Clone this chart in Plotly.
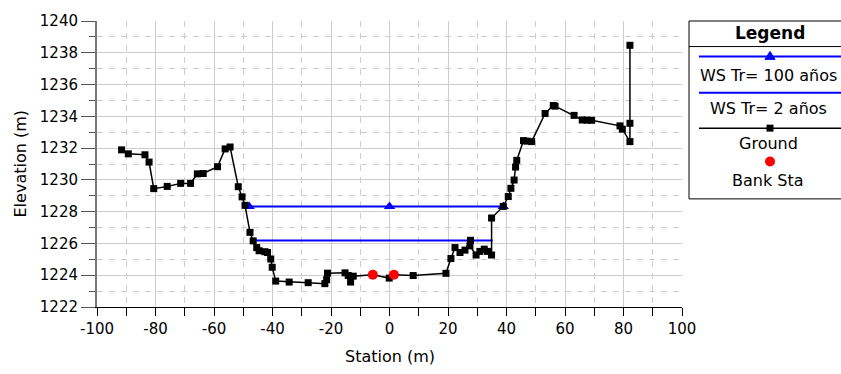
import plotly.graph_objects as go

# ---------------- data ----------------
ground_x = [-91.6, -89.3, -83.6, -82.2, -80.6, -76.0, -71.4, -68.0, -65.7, -63.7,
            -58.8, -56.2, -54.5, -51.7, -50.4, -49.4, -47.7, -46.6, -45.4, -44.6,
            -42.6, -41.7, -40.6, -40.1, -38.9, -34.3, -27.8, -22.1, -21.5, -21.2,
            -15.2, -14.1, -13.3, -12.4, -5.7, -0.1, 1.5, 8.1, 19.3, 21.0,
            22.4, 24.1, 25.8, 27.7, 27.5, 29.6, 30.9, 32.4, 33.5, 34.9,
            34.9, 38.9, 40.6, 41.5, 42.6, 43.1, 43.5, 45.8, 47.0, 48.6,
            53.2, 56.0, 56.6, 63.1, 65.9, 67.5, 69.1, 78.8, 79.6, 82.2,
            82.2, 82.2]
ground_y = [1231.89, 1231.64, 1231.58, 1231.12, 1229.45, 1229.59, 1229.78, 1229.78, 1230.38, 1230.40,
            1230.83, 1231.95, 1232.07, 1229.57, 1228.93, 1228.40, 1226.70, 1226.16, 1225.74, 1225.54,
            1225.48, 1225.43, 1225.02, 1224.50, 1223.63, 1223.57, 1223.53, 1223.47, 1223.72, 1224.13,
            1224.15, 1223.98, 1223.57, 1223.94, 1224.03, 1223.82, 1224.03, 1223.98, 1224.12, 1225.05,
            1225.74, 1225.43, 1225.58, 1226.20, 1225.85, 1225.27, 1225.50, 1225.64, 1225.50, 1225.27,
            1227.60, 1228.33, 1228.95, 1229.47, 1229.99, 1230.81, 1231.23, 1232.47, 1232.44, 1232.41,
            1234.18, 1234.68, 1234.64, 1234.06, 1233.77, 1233.76, 1233.75, 1233.40, 1233.19, 1232.41,
            1233.56, 1238.47]

ws100_x = [-48.0, 0.0, 38.9]
ws100_y = [1228.33, 1228.33, 1228.33]

ws2_x = [-47.1, 35.3]
ws2_y = [1226.18, 1226.18]

bank_x = [-5.7, 1.5]
bank_y = [1224.03, 1224.03]

x_tickvals = [-100, -80, -60, -40, -20, 0, 20, 40, 60, 80, 100]
x_ticktext = ["-100", "-80", "-60", "-40", "-20", "0", "20", "40", "60", "80", "100"]
y_tickvals = [1222, 1224, 1226, 1228, 1230, 1232, 1234, 1236, 1238, 1240]

legend_labels = ["WS Tr= 100 años", "WS Tr= 2 años", "Ground", "Bank Sta"]

FONT = "DejaVu Sans"
W, H = 841, 374
ML, MR, MT, MB = 97, 159, 16, 67
PW = W - ML - MR
PH = H - MT - MB


def xp(px):
    return (px - ML) / PW


def yp(py):
    return (H - MB - py) / PH


fig = go.Figure()

fig.add_trace(go.Scatter(x=ws100_x, y=ws100_y, mode="lines+markers",
                         line=dict(color="#0000FF", width=2),
                         marker=dict(symbol="triangle-up", size=10, color="#0000FF"),
                         name=legend_labels[0], showlegend=False))
fig.add_trace(go.Scatter(x=ws2_x, y=ws2_y, mode="lines",
                         line=dict(color="#0000FF", width=2),
                         name=legend_labels[1], showlegend=False))
fig.add_trace(go.Scatter(x=ground_x, y=ground_y, mode="lines+markers",
                         line=dict(color="black", width=1.5),
                         marker=dict(symbol="square", size=7, color="black"),
                         name=legend_labels[2], showlegend=False))
fig.add_trace(go.Scatter(x=bank_x, y=bank_y, mode="markers",
                         marker=dict(symbol="circle", size=10, color="#FF0000"),
                         name=legend_labels[3], showlegend=False))

grid_c = "#CDCDCD"
fig.update_xaxes(range=[-100, 100], tickmode="array", tickvals=x_tickvals, ticktext=x_ticktext,
                 showgrid=True, gridcolor=grid_c,
                 gridwidth=1, zeroline=False, showline=True, linecolor="black", linewidth=1,
                 ticks="outside", ticklen=8, tickcolor="black", tickwidth=1,
                 tickfont=dict(family=FONT, size=15, color="black"),
                 minor=dict(dtick=10, tick0=-100, showgrid=True, gridcolor=grid_c, griddash="6px,6px",
                            ticks="outside", ticklen=8, tickcolor="black", gridwidth=1))
fig.update_yaxes(range=[1222, 1240], tickmode="array", tickvals=y_tickvals,
                 showgrid=True, gridcolor=grid_c,
                 gridwidth=1, zeroline=False, showline=True, linecolor="#777777", linewidth=2,
                 ticks="outside", ticklen=14, tickcolor="#555555", tickwidth=1,
                 tickfont=dict(family=FONT, size=15, color="black"),
                 minor=dict(dtick=1, tick0=1222, showgrid=True, gridcolor=grid_c, griddash="6px,6px",
                            ticks="outside", ticklen=6, tickcolor="#555555", gridwidth=1))

shapes = []
annotations = []

# legend box
shapes.append(dict(type="rect", xref="paper", yref="paper", x0=xp(689), x1=xp(855),
                   y0=yp(197), y1=yp(16), line=dict(color="black", width=1), fillcolor="white"))
shapes.append(dict(type="line", xref="paper", yref="paper", x0=xp(689), x1=xp(855),
                   y0=yp(42), y1=yp(42), line=dict(color="black", width=1)))
shapes.append(dict(type="line", xref="paper", yref="paper", x0=xp(699), x1=xp(855),
                   y0=yp(52), y1=yp(52), line=dict(color="#0000FF", width=2)))
shapes.append(dict(type="path", xref="paper", yref="paper", xsizemode="pixel", ysizemode="pixel",
                   xanchor=xp(770), yanchor=yp(52), path="M-5,-3 L5,-3 L0,5 Z",
                   fillcolor="#0000FF", line=dict(color="#0000FF", width=1)))
shapes.append(dict(type="line", xref="paper", yref="paper", x0=xp(699), x1=xp(855),
                   y0=yp(89), y1=yp(89), line=dict(color="#0000FF", width=2)))
shapes.append(dict(type="line", xref="paper", yref="paper", x0=xp(699), x1=xp(855),
                   y0=yp(125), y1=yp(125), line=dict(color="black", width=1.5)))
shapes.append(dict(type="rect", xref="paper", yref="paper", xsizemode="pixel", ysizemode="pixel",
                   xanchor=xp(770), yanchor=yp(125), x0=-3.5, x1=3.5, y0=-3.5, y1=3.5,
                   fillcolor="black", line=dict(color="black", width=0)))
shapes.append(dict(type="circle", xref="paper", yref="paper", xsizemode="pixel", ysizemode="pixel",
                   xanchor=xp(770), yanchor=yp(159), x0=-5, x1=5, y0=-5, y1=5,
                   fillcolor="#FF0000", line=dict(color="#FF0000", width=0)))

annotations.append(dict(text="<b>Legend</b>", xref="paper", yref="paper", x=xp(770), y=yp(28),
                        xanchor="center", yanchor="middle", showarrow=False,
                        font=dict(family=FONT, size=17, color="black")))
for lab, py in zip(legend_labels, [71, 105, 141, 178]):
    annotations.append(dict(text=lab, xref="paper", yref="paper", x=xp(768), y=yp(py),
                            xanchor="center", yanchor="middle", showarrow=False,
                            font=dict(family=FONT, size=16, color="black")))

annotations.append(dict(text="Station (m)", xref="paper", yref="paper", x=xp(390), y=yp(357),
                        xanchor="center", yanchor="middle", showarrow=False,
                        font=dict(family=FONT, size=16, color="black")))
annotations.append(dict(text="Elevation (m)", xref="paper", yref="paper", x=xp(20), y=yp(162),
                        xanchor="center", yanchor="middle", showarrow=False, textangle=-90,
                        font=dict(family=FONT, size=16, color="black")))

fig.update_layout(width=W, height=H, margin=dict(l=ML, r=MR, t=MT, b=MB, pad=0),
                  paper_bgcolor="white", plot_bgcolor="white", showlegend=False,
                  shapes=shapes, annotations=annotations,
                  font=dict(family=FONT, size=15, color="black"))

fig.write_html("out.html")
